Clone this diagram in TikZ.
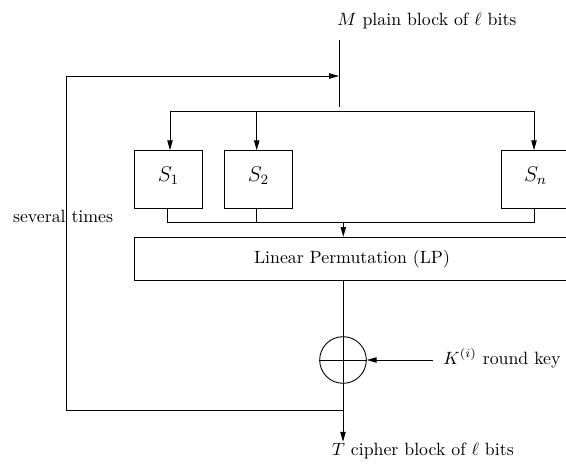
\documentclass[tikz,border=0pt]{standalone}
\usetikzlibrary{arrows.meta}
\begin{document}
\begin{tikzpicture}[x=0.5618pt,y=-0.5618pt,
  line width=0.5pt,
  arr/.style={-{Triangle[length=5.5pt,width=3pt]}},
  sbox/.style={draw,minimum width=38.4pt,minimum height=32.4pt,inner sep=0pt,font=\large,text depth=6pt},
  lpbox/.style={draw,minimum width=244.9pt,minimum height=24.4pt,inner sep=0pt},
  xorc/.style={draw,circle,minimum size=26.2pt,inner sep=0pt},
  lbl/.style={inner sep=0pt,anchor=base west}]
\useasboundingbox (0,0) rectangle (566,468);
% labels
\node[lbl] (mtext) at (337,25) {$M$ plain block of $\ell$ bits};
\node[lbl] (sev) at (12.6,222) {several times};
\node[lbl] (ktext) at (443,364) {$K^{(i)}$ round key};
\node[lbl] (ttext) at (331.7,455) {$T$ cipher block of $\ell$ bits};
% boxes
\node[sbox] (s1) at (168.5,179.5) {$S_1$};
\node[sbox] (s2) at (258.5,179.5) {$S_2$};
\node[sbox] (sn) at (535.5,179.5) {$S_n$};
\node[lpbox] (lp) at (352,259) {Linear Permutation (LP)};
\node[xorc] (xor) at (343,360) {};
% coordinates
\coordinate (m0) at (339,40);
\coordinate (m1) at (339,107);
\coordinate (d1) at (170,111);
\coordinate (d2) at (256.7,111);
\coordinate (dn) at (534,111);
\coordinate (c1) at (167,222.7);
\coordinate (c2) at (256.7,222.7);
\coordinate (cn) at (534,222.7);
\coordinate (cm) at (343.3,222.7);
\coordinate (fb0) at (343,410);
\coordinate (fb1) at (66,410);
\coordinate (fb2) at (66,76);
\coordinate (fb3) at (339,76);
\coordinate (kin) at (433,360);
\coordinate (tout) at (343,441.7);
% input line
\draw (m0) -- (m1);
\draw (d1) -- (dn);
\draw[arr] (d1) -- (d1 |- s1.north);
\draw[arr] (d2) -- (d2 |- s2.north);
\draw[arr] (dn) -- (dn |- sn.north);
% collect
\draw (c1 |- s1.south) -- (c1) -- (cn) -- (cn |- sn.south);
\draw (c2 |- s2.south) -- (c2);
\draw[arr] (cm) -- (cm |- lp.north);
% output
\draw (xor.west) -- (xor.east);
\draw[arr] (xor.center |- lp.south) -- (tout);
\draw[arr] (kin) -- (xor.east);
% feedback
\draw[arr] (fb0) -- (fb1) -- (fb2) -- (fb3);
\end{tikzpicture}
\end{document}
